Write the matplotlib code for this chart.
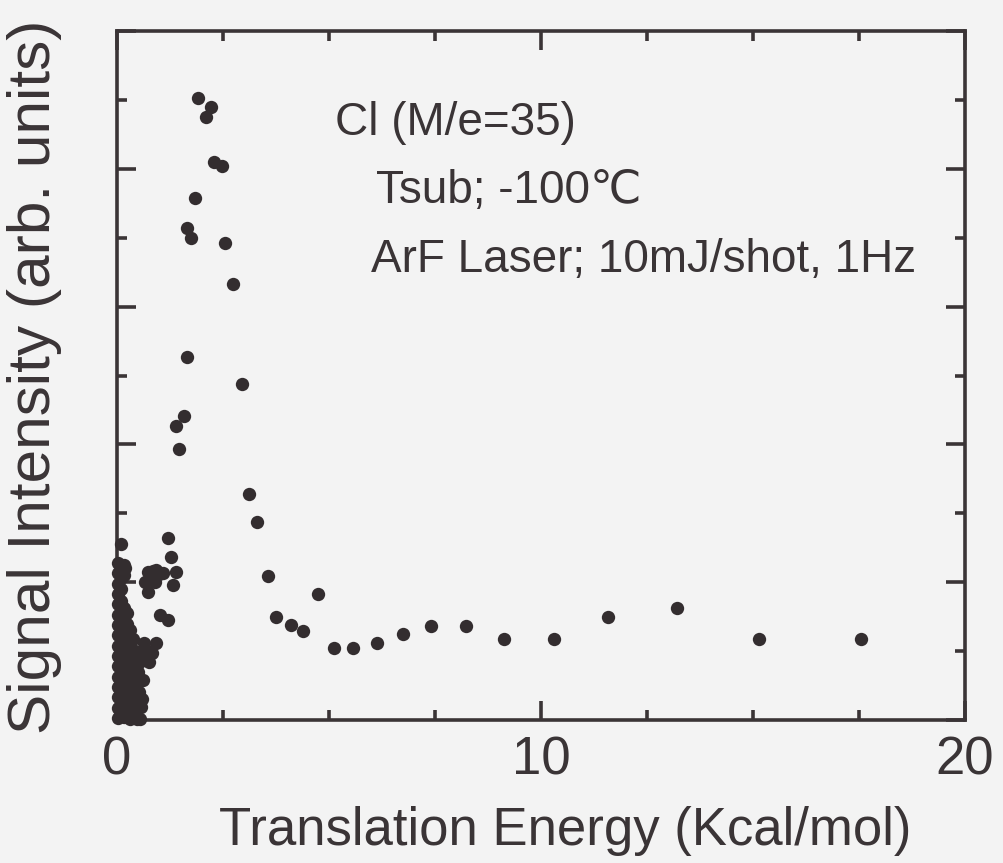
import matplotlib
matplotlib.use("Agg")
import matplotlib.pyplot as plt
from matplotlib.ticker import MultipleLocator, NullFormatter

plt.rcParams['font.family'] = ['Liberation Sans', 'DejaVu Sans']

# Main distribution (peak and tail)
energy_main = [1.91, 2.22, 2.10, 2.29, 2.48, 1.84, 1.65, 1.75, 2.55, 2.74,
               1.65, 2.95, 1.58, 1.39, 1.46, 3.11, 3.30, 3.56, 4.74, 3.75,
               4.10, 4.39, 5.12, 5.57, 6.13, 6.75, 7.41, 8.23, 9.13, 10.31,
               11.58, 13.21, 15.14, 17.55]
signal_main = [9.03, 8.90, 8.75, 8.10, 8.04, 7.58, 7.14, 7.00, 6.92, 6.33,
               5.27, 4.88, 4.41, 4.27, 3.93, 3.28, 2.87, 2.09, 1.83, 1.49,
               1.38, 1.29, 1.04, 1.04, 1.12, 1.25, 1.36, 1.36, 1.18, 1.18,
               1.49, 1.63, 1.18, 1.18]

# Points between 0.6 and 1.4 kcal/mol
energy_mid = [0.73, 0.92, 1.08, 0.66, 0.73, 0.90, 0.78, 1.20, 1.27, 1.39,
              1.32, 1.01, 1.20, 0.85, 1.00]
signal_mid = [2.15, 2.18, 2.13, 2.00, 1.86, 2.00, 2.10, 2.64, 2.37, 2.15,
              1.96, 1.52, 1.45, 2.16, 2.12]

# Dense group of slow-arrival points near zero energy
energy_low = [0.02, 0.02, 0.02, 0.02, 0.02, 0.02, 0.02, 0.02, 0.02, 0.02,
              0.02, 0.02, 0.02, 0.02, 0.02, 0.02,
              0.09, 0.09, 0.09, 0.09, 0.09, 0.09, 0.09, 0.09, 0.09, 0.09,
              0.09, 0.09, 0.09,
              0.16, 0.16, 0.16, 0.16, 0.16, 0.16, 0.16, 0.16, 0.16, 0.16,
              0.16, 0.16, 0.10, 0.19,
              0.24, 0.24, 0.24, 0.24, 0.24, 0.24, 0.24, 0.24, 0.24,
              0.31, 0.31, 0.31, 0.31, 0.31, 0.31, 0.31, 0.31,
              0.38, 0.38, 0.38, 0.38, 0.38, 0.38, 0.38,
              0.46, 0.46, 0.46, 0.46, 0.46, 0.46,
              0.55, 0.57, 0.61, 0.53, 0.75, 0.83, 0.92, 0.64, 0.56, 0.70,
              0.50, 0.60]
signal_low = [0.03, 0.18, 0.33, 0.48, 0.63, 0.78, 0.93, 1.08, 1.23, 1.38,
              1.53, 1.68, 1.83, 1.98, 2.13, 2.28,
              0.10, 0.28, 0.46, 0.64, 0.82, 1.00, 1.18, 1.36, 1.54, 1.72,
              1.90, 2.06, 2.22,
              0.05, 0.22, 0.40, 0.58, 0.75, 0.92, 1.10, 1.28, 1.45, 1.62,
              2.10, 2.25, 2.55, 2.20,
              0.12, 0.32, 0.52, 0.72, 0.90, 1.06, 1.24, 1.40, 1.56,
              0.02, 0.20, 0.38, 0.56, 0.74, 0.92, 1.10, 1.30,
              0.10, 0.30, 0.50, 0.68, 0.86, 1.02, 1.18,
              0.02, 0.22, 0.42, 0.62, 0.80, 0.98,
              0.02, 0.19, 0.58, 0.40, 0.84, 0.97, 1.12, 1.12, 0.85, 1.00,
              0.70, 0.30]

x_major = [0, 10, 20]
x_labels = ["0", "10", "20"]

ink = '#3a3436'
bg = '#f3f3f3'

fig = plt.figure(figsize=(10.04, 8.63), dpi=100, facecolor=bg)
ax = fig.add_axes([117 / 1004, 1 - 720 / 863, 848 / 1004, 689 / 863])
ax.set_facecolor(bg)

for xs, ys in ((energy_low, signal_low), (energy_mid, signal_mid),
               (energy_main, signal_main)):
    ax.plot(xs, ys, 'o', color='#332d2f', markersize=9.6, markeredgewidth=0,
            clip_on=False, zorder=3)

ax.set_xlim(0, 20)
ax.set_ylim(0, 10)

for sp in ax.spines.values():
    sp.set_linewidth(2.6)
    sp.set_color(ink)

ax.set_xticks(x_major)
ax.set_xticklabels(x_labels)
ax.xaxis.set_minor_locator(MultipleLocator(2.5))
ax.yaxis.set_major_locator(MultipleLocator(2))
ax.yaxis.set_minor_locator(MultipleLocator(1))
ax.yaxis.set_major_formatter(NullFormatter())
ax.tick_params(which='both', direction='in', top=True, right=True,
               width=2.6, color=ink)
ax.tick_params(which='major', length=13.5)
ax.tick_params(which='minor', length=7.5)
ax.tick_params(axis='x', which='major', labelsize=38, labelcolor=ink, pad=11)

fig.text(565 / 1004, 1 - 845 / 863, "Translation Energy (Kcal/mol)",
         fontsize=38, color=ink, ha='center', va='baseline')
fig.text(35 / 1004, 1 - 377 / 863, "Signal Intensity (arb. units)",
         fontsize=43.5, color=ink, ha='center', va='center', rotation=90)

ax.text(0.257, 0.849, "Cl (M/e=35)", transform=ax.transAxes,
        fontsize=33, color=ink, ha='left', va='baseline')
ax.text(0.305, 0.750, "Tsub; -100℃", transform=ax.transAxes,
        fontsize=33, color=ink, ha='left', va='baseline')
ax.text(0.300, 0.650, "ArF Laser; 10mJ/shot, 1Hz", transform=ax.transAxes,
        fontsize=33, color=ink, ha='left', va='baseline')

fig.savefig("out.png", dpi=100, facecolor=bg)
